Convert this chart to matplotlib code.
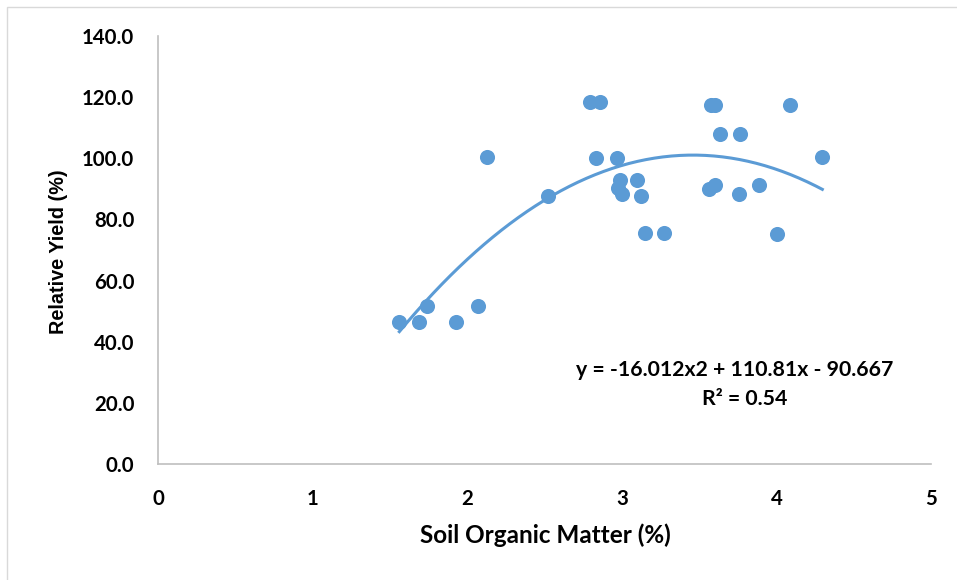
import numpy as np
import matplotlib
matplotlib.use("Agg")
import matplotlib.pyplot as plt
from matplotlib.patches import Rectangle

# Data
som = [1.561, 1.690, 1.742, 1.928, 2.068, 2.128, 2.523, 2.794, 2.859, 2.835,
       2.969, 2.988, 2.977, 3.003, 3.100, 3.122, 3.152, 3.271, 3.575, 3.603,
       4.086, 3.633, 3.763, 4.297, 3.564, 3.603, 3.760, 3.886, 4.004]
rel_yield = [46.4, 46.4, 51.6, 46.4, 51.8, 100.4, 87.8, 118.4, 118.4, 100.0,
             100.0, 93.0, 90.2, 88.3, 92.9, 87.8, 75.5, 75.5, 117.4, 117.4,
             117.4, 107.9, 107.9, 100.4, 89.9, 91.2, 88.4, 91.2, 75.3]
coef = [-16.012, 110.81, -90.667]
x_ticks = [0, 1, 2, 3, 4, 5]
y_ticks = [0, 20, 40, 60, 80, 100, 120, 140]
eq_text = "y = -16.012x2 + 110.81x - 90.667"
r2_text = "R² = 0.54"

W, H = 957, 580
fig = plt.figure(figsize=(W / 100, H / 100), dpi=100)
plt.rcParams['font.family'] = ['Lato', 'DejaVu Sans']

fig.patches.append(Rectangle((7 / W, -0.1), 1.2, (H - 7) / H + 0.1,
                             transform=fig.transFigure, fill=False,
                             edgecolor='#D9D9D9', linewidth=1.0))

ax = fig.add_axes([158 / W, 116 / H, (931 - 158) / W, (464 - 36) / H])
color = '#5B9BD5'

xs = np.linspace(min(som), max(som), 200)
ax.plot(xs, np.polyval(coef, xs), color=color, linewidth=2.2, zorder=2)
ax.scatter(som, rel_yield, s=118, color=color, zorder=3, linewidths=0)

ax.set_xlim(0, 5)
ax.set_ylim(0, 140)
ax.set_xticks(x_ticks)
ax.set_xticklabels([str(v) for v in x_ticks])
ax.set_yticks(y_ticks)
ax.set_yticklabels([f"{v:.1f}" for v in y_ticks])
ax.tick_params(length=0, labelsize=14.7)
ax.tick_params(axis='y', pad=17)
ax.tick_params(axis='x', pad=18)
for lab in ax.get_xticklabels() + ax.get_yticklabels():
    lab.set_fontweight('bold')

for s in ['top', 'right']:
    ax.spines[s].set_visible(False)
for s in ['left', 'bottom']:
    ax.spines[s].set_color('#BFBFBF')
    ax.spines[s].set_linewidth(1.2)

fig.text(545 / W, 1 - 535 / H, "Soil Organic Matter (%)", ha='center', va='center',
         fontsize=17.5, fontweight='bold')
fig.text(58 / W, 1 - 252 / H, "Relative Yield (%)", ha='center', va='center',
         rotation=90, fontsize=14.3, fontweight='bold', family=['Liberation Sans'])

fig.text(735 / W, 1 - 370 / H, eq_text, ha='center', va='center',
         fontsize=15.3, fontweight='bold')
fig.text(745 / W, 1 - 399 / H, r2_text, ha='center', va='center',
         fontsize=15.3, fontweight='bold')

fig.savefig("out.png", dpi=100, facecolor='white')
